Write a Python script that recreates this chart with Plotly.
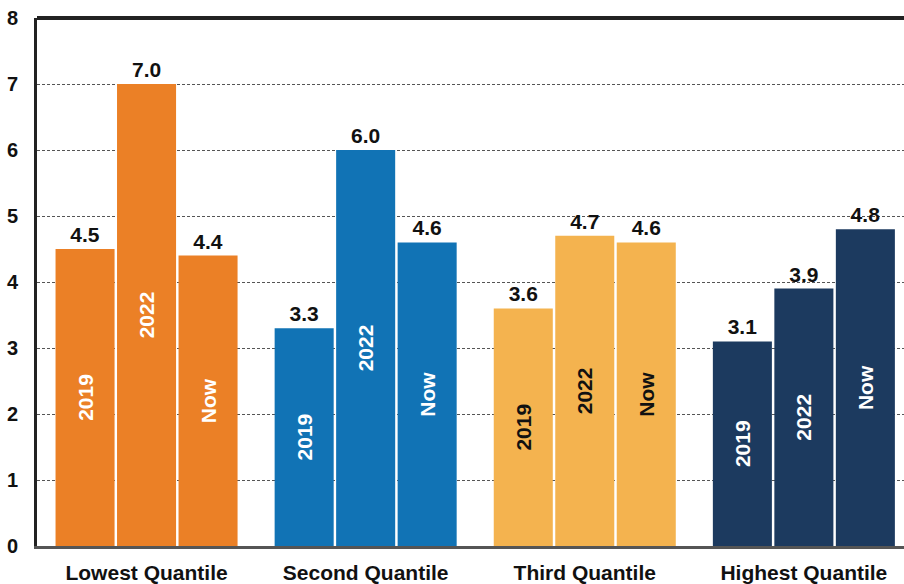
import plotly.graph_objects as go

# Quantile groups and the three periods compared within each
categories = ["Lowest Quantile", "Second Quantile", "Third Quantile", "Highest Quantile"]
periods = ["2019", "2022", "Now"]
values = {
    "2019": [4.5, 3.3, 3.6, 3.1],
    "2022": [7.0, 6.0, 4.7, 3.9],
    "Now":  [4.4, 4.6, 4.6, 4.8],
}
y_ticks = [0, 1, 2, 3, 4, 5, 6, 7, 8]

# One colour per quantile group; text inside the bars is dark only on the light bars
group_colors = ["#EB8026", "#1173B5", "#F4B34F", "#1C3A5F"]
inside_text_colors = ["#FFFFFF", "#FFFFFF", "#111111", "#FFFFFF"]

FONT = "Liberation Sans, Arial, sans-serif"

fig = go.Figure()
for p in periods:
    # bars with the period name written sideways inside
    fig.add_trace(go.Bar(
        x=categories, y=values[p], name=p, offsetgroup=p,
        marker=dict(color=group_colors, line=dict(width=0)),
        text=[p] * len(categories), textposition="inside",
        insidetextanchor="middle", textangle=-90, constraintext="none",
        textfont=dict(family=FONT, size=21, color=inside_text_colors, weight="bold"),
        hoverinfo="skip", showlegend=False,
    ))
    # transparent twin in the same slot carrying the value label on top
    fig.add_trace(go.Bar(
        x=categories, y=values[p], name=p, offsetgroup=p,
        marker=dict(color="rgba(0,0,0,0)", line=dict(width=0)),
        text=[f"{v:.1f}" for v in values[p]], textposition="outside",
        constraintext="none",
        textfont=dict(family=FONT, size=21, color="#111111", weight="bold"),
        cliponaxis=False, hoverinfo="skip", showlegend=False,
    ))

fig.update_layout(
    width=904, height=584,
    margin=dict(l=37, r=0, t=18, b=34),
    barmode="group", bargap=0.158, bargroupgap=0.04,
    plot_bgcolor="white", paper_bgcolor="white",
    font=dict(family=FONT, color="#111111"),
    showlegend=False,
    xaxis=dict(
        range=[-0.5, 3.457], showgrid=False, ticks="",
        showline=True, linecolor="#555555", linewidth=3,
        tickfont=dict(family=FONT, size=21, color="#111111", weight="bold"),
        ticklabelstandoff=6,
    ),
    yaxis=dict(
        range=[0, 8], tickvals=y_ticks, ticks="",
        showline=True, linecolor="#222222", linewidth=3,
        showgrid=True, gridcolor="#555555", gridwidth=1, griddash="3px,2px",
        zeroline=False,
        tickfont=dict(family=FONT, size=20, color="#111111", weight="bold"),
        ticklabelstandoff=12,
    ),
    shapes=[dict(type="line", xref="paper", yref="paper", x0=0, x1=1, y0=1, y1=1,
                 line=dict(color="#222222", width=4))],
)

fig.write_html("out.html")
